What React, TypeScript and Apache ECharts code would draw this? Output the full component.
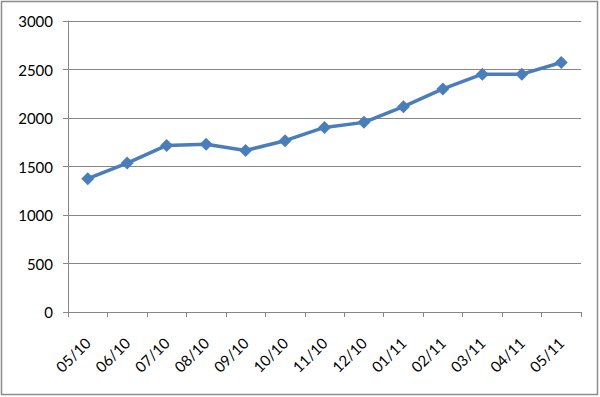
import React, { useEffect, useRef } from "react";
import * as echarts from "echarts";

const categories = ["05/10", "06/10", "07/10", "08/10", "09/10", "10/10", "11/10", "12/10", "01/11", "02/11", "03/11", "04/11", "05/11"];
const values = [1375, 1535, 1717, 1730, 1665, 1766, 1903, 1955, 2117, 2300, 2452, 2452, 2572];

export default function App() {
  const ref = useRef<HTMLDivElement>(null);
  useEffect(() => {
    document.body.style.margin = "0";
    const chart = echarts.init(ref.current!, null, { renderer: "svg" });
    chart.setOption({
      animation: false,
      backgroundColor: "#ffffff",
      textStyle: { fontFamily: "Lato" },
      graphic: [
        {
          type: "rect",
          shape: { x: 1.5, y: 1.5, width: 596, height: 393 },
          style: { fill: "none", stroke: "#8c8c8c", lineWidth: 1.5 },
          silent: true,
        },
      ],
      grid: { left: 68, right: 19, top: 21, bottom: 85 },
      xAxis: {
        type: "category",
        data: categories,
        boundaryGap: true,
        axisLine: { show: true, lineStyle: { color: "#868686", width: 1 } },
        axisTick: { show: true, length: 5, alignWithLabel: false, lineStyle: { color: "#868686" } },
        axisLabel: { rotate: 45, margin: 28, fontSize: 15, color: "#000", fontFamily: "Lato" },
        splitLine: { show: false },
      },
      yAxis: {
        type: "value",
        min: 0,
        max: 3000,
        interval: 500,
        axisLine: { show: true, lineStyle: { color: "#868686", width: 1 } },
        axisTick: { show: true, length: 5, lineStyle: { color: "#868686" } },
        axisLabel: { margin: 15, fontSize: 15, color: "#000", fontFamily: "Lato", formatter: (v: number) => String(v) },
        splitLine: { show: true, lineStyle: { color: "#868686", width: 1 } },
      },
      series: [
        {
          type: "line",
          data: values,
          symbol: "diamond",
          symbolSize: 13,
          lineStyle: { color: "#4A7EBB", width: 3.5 },
          itemStyle: { color: "#4A7EBB" },
        },
      ],
    });
    return () => chart.dispose();
  }, []);
  return <div ref={ref} style={{ width: 600, height: 397 }} />;
}
